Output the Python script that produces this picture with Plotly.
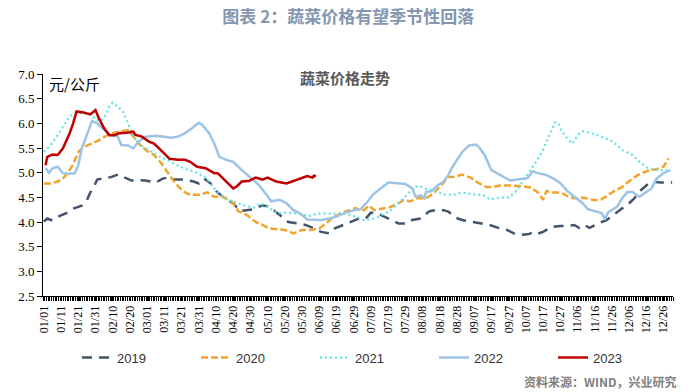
import plotly.graph_objects as go

# ---------------- data (day of year, leap-year calendar) ----------------
tick_days = list(range(1, 362, 10))
tick_labels = ["01/01", "01/11", "01/21", "01/31", "02/10", "02/20", "03/01", "03/11",
               "03/21", "03/31", "04/10", "04/20", "04/30", "05/10", "05/20", "05/30",
               "06/09", "06/19", "06/29", "07/09", "07/19", "07/29", "08/08", "08/18",
               "08/28", "09/07", "09/17", "09/27", "10/07", "10/17", "10/27", "11/06",
               "11/16", "11/26", "12/06", "12/16", "12/26"]

days_2019 = [1, 3, 6, 10, 14, 18, 23, 26, 28, 30, 32, 36, 40, 44, 48, 52, 56, 60, 66, 70, 73, 76,
             82, 88, 91, 94, 98, 101, 106, 111, 115, 119, 123, 128, 132, 137, 143, 149, 153, 158,
             162, 167, 170, 175, 179, 184, 188, 191, 195, 199, 203, 207, 212, 215, 220, 225, 229,
             233, 236, 240, 244, 250, 256, 260, 266, 270, 274, 278, 282, 284, 286, 291, 296, 301,
             305, 309, 312, 315, 318, 323, 328, 332, 337, 341, 344, 348, 351, 354, 359, 366]
vals_2019 = [4.01, 4.07, 4.03, 4.12, 4.18, 4.27, 4.33, 4.44, 4.60, 4.71, 4.86, 4.88, 4.91, 4.96,
             4.90, 4.84, 4.85, 4.84, 4.80, 4.88, 4.90, 4.86, 4.86, 4.82, 4.78, 4.88, 4.78, 4.63,
             4.48, 4.38, 4.22, 4.24, 4.26, 4.34, 4.31, 4.17, 4.00, 3.97, 3.94, 3.87, 3.80, 3.77,
             3.87, 3.94, 4.00, 4.07, 4.07, 4.19, 4.17, 4.11, 4.04, 3.97, 3.97, 4.04, 4.07, 4.22,
             4.24, 4.24, 4.21, 4.09, 4.04, 4.00, 3.97, 3.94, 3.87, 3.84, 3.77, 3.74, 3.75, 3.77,
             3.74, 3.80, 3.90, 3.92, 3.92, 3.94, 3.88, 3.94, 3.88, 3.97, 4.04, 4.14, 4.28, 4.38,
             4.48, 4.65, 4.74, 4.82, 4.80, 4.80]

days_2020 = [1, 5, 9, 12, 15, 18, 21, 24, 28, 33, 39, 45, 50, 52, 55, 58, 61, 65, 69, 73, 77, 82,
             86, 91, 96, 100, 105, 110, 114, 119, 124, 128, 132, 137, 141, 146, 151, 156, 161, 165,
             168, 173, 178, 182, 186, 190, 193, 197, 202, 206, 210, 214, 218, 223, 228, 232, 236,
             240, 244, 249, 253, 258, 262, 266, 272, 280, 284, 288, 291, 293, 296, 301, 305, 309,
             315, 321, 325, 329, 333, 337, 340, 346, 352, 357, 361, 364]
vals_2020 = [4.78, 4.78, 4.82, 4.88, 5.00, 5.17, 5.42, 5.52, 5.58, 5.66, 5.78, 5.84, 5.86, 5.78,
             5.66, 5.52, 5.44, 5.36, 5.20, 5.00, 4.80, 4.62, 4.55, 4.55, 4.60, 4.51, 4.51, 4.42,
             4.22, 4.14, 4.00, 3.94, 3.87, 3.85, 3.84, 3.77, 3.84, 3.84, 3.87, 3.97, 4.07, 4.17,
             4.24, 4.28, 4.22, 4.33, 4.24, 4.26, 4.30, 4.36, 4.44, 4.42, 4.48, 4.48, 4.60, 4.75,
             4.91, 4.92, 4.96, 4.90, 4.80, 4.71, 4.71, 4.74, 4.74, 4.72, 4.70, 4.60, 4.45, 4.63,
             4.60, 4.60, 4.53, 4.48, 4.49, 4.44, 4.46, 4.55, 4.64, 4.71, 4.80, 4.95, 5.04, 5.07,
             5.12, 5.29]

days_2021 = [1, 5, 9, 13, 16, 20, 24, 28, 31, 34, 37, 39, 41, 44, 47, 50, 53, 57, 63, 68, 72, 77,
             83, 89, 95, 98, 101, 105, 111, 117, 123, 127, 131, 137, 143, 149, 155, 160, 170, 176,
             182, 187, 193, 198, 202, 207, 212, 216, 219, 223, 229, 233, 239, 244, 250, 256, 260,
             265, 271, 275, 279, 283, 287, 291, 295, 298, 300, 302, 305, 308, 311, 314, 321, 325,
             330, 334, 337, 343, 347, 352, 357, 363]
vals_2021 = [5.42, 5.56, 5.76, 5.97, 6.15, 6.21, 6.20, 6.20, 6.08, 6.04, 6.17, 6.35, 6.42, 6.34,
             6.24, 5.97, 5.73, 5.56, 5.44, 5.33, 5.27, 5.17, 5.08, 5.01, 4.90, 4.76, 4.64, 4.50,
             4.41, 4.34, 4.29, 4.38, 4.30, 4.18, 4.19, 4.17, 4.12, 4.17, 4.17, 4.17, 4.11, 4.04,
             4.07, 4.15, 4.22, 4.38, 4.55, 4.71, 4.73, 4.67, 4.63, 4.56, 4.55, 4.60, 4.56, 4.55,
             4.46, 4.49, 4.50, 4.61, 4.82, 5.02, 5.22, 5.46, 5.76, 6.02, 6.00, 5.83, 5.70, 5.59,
             5.76, 5.84, 5.78, 5.73, 5.66, 5.56, 5.46, 5.36, 5.22, 5.09, 5.05, 5.05]

days_2022 = [2, 4, 6, 9, 12, 15, 19, 21, 23, 26, 29, 32, 35, 40, 44, 46, 50, 53, 56, 60, 66, 71,
             75, 79, 83, 87, 91, 93, 97, 100, 103, 107, 111, 116, 122, 126, 131, 133, 138, 142,
             146, 150, 154, 162, 167, 171, 175, 181, 185, 189, 192, 198, 201, 208, 211, 215, 217,
             220, 222, 223, 226, 230, 233, 236, 238, 241, 244, 248, 252, 254, 257, 261, 265, 268,
             272, 282, 285, 287, 293, 297, 301, 305, 310, 314, 317, 322, 325, 327, 329, 334, 337,
             340, 343, 347, 350, 354, 357, 361, 365]
vals_2022 = [5.09, 5.00, 5.09, 5.12, 4.99, 4.98, 4.99, 5.15, 5.49, 5.76, 6.05, 6.00, 5.90, 5.76,
             5.73, 5.56, 5.55, 5.49, 5.63, 5.73, 5.75, 5.73, 5.71, 5.73, 5.80, 5.90, 6.01, 5.97,
             5.80, 5.59, 5.32, 5.26, 5.22, 5.05, 4.88, 4.75, 4.52, 4.42, 4.45, 4.38, 4.24, 4.17,
             4.05, 4.04, 4.07, 4.11, 4.17, 4.24, 4.26, 4.41, 4.55, 4.71, 4.80, 4.78, 4.77, 4.68,
             4.51, 4.54, 4.48, 4.61, 4.62, 4.75, 4.81, 4.95, 5.09, 5.26, 5.42, 5.55, 5.57, 5.51,
             5.36, 5.05, 4.97, 4.92, 4.84, 4.89, 5.03, 5.00, 4.95, 4.88, 4.79, 4.63, 4.48, 4.38,
             4.26, 4.21, 4.18, 4.07, 4.20, 4.31, 4.48, 4.61, 4.61, 4.51, 4.58, 4.68, 4.88, 4.99,
             5.05]

days_2023 = [2, 3, 6, 9, 12, 16, 18, 20, 24, 28, 31, 33, 36, 39, 42, 45, 49, 53, 54, 58, 62, 65,
             70, 74, 79, 83, 86, 90, 95, 100, 102, 106, 111, 113, 116, 120, 124, 128, 131, 136,
             142, 146, 150, 154, 157, 158, 159]
vals_2023 = [5.15, 5.32, 5.37, 5.36, 5.49, 5.80, 6.00, 6.24, 6.22, 6.18, 6.27, 6.10, 5.90, 5.76,
             5.76, 5.80, 5.81, 5.83, 5.77, 5.73, 5.63, 5.59, 5.42, 5.28, 5.26, 5.26, 5.22, 5.12,
             5.09, 4.99, 4.99, 4.85, 4.68, 4.72, 4.82, 4.83, 4.90, 4.86, 4.90, 4.82, 4.78, 4.83,
             4.88, 4.93, 4.90, 4.94, 4.92]

series = [
    ("2019", days_2019, vals_2019, "#44546A", "10px,7px", 2.5),
    ("2020", days_2020, vals_2020, "#F5A32A", "7px,3px", 2.5),
    ("2021", days_2021, vals_2021, "#5FE3E3", "2px,3px", 2.2),
    ("2022", days_2022, vals_2022, "#9DC3E6", "solid", 2.5),
    ("2023", days_2023, vals_2023, "#C00000", "solid", 2.5),
]

fig = go.Figure()
for name, xs, ys, color, dash, w in series:
    fig.add_trace(go.Scatter(x=xs, y=ys, name=name, mode="lines",
                             line=dict(color=color, dash=dash, width=w)))

serif = "Liberation Serif, Times New Roman, serif"
cjk = "Noto Sans CJK SC, sans-serif"

fig.update_layout(
    width=691, height=392,
    margin=dict(l=43, r=18, t=74, b=96),
    paper_bgcolor="white", plot_bgcolor="white",
    title=dict(text="<b>图表 2：蔬菜价格有望季节性回落</b>", x=0.504, xanchor="center",
               y=0.957, yanchor="middle", yref="container",
               font=dict(family=cjk, size=17, color="#8496B0")),
    xaxis=dict(range=[0.5, 366.5], tickmode="array", tickvals=tick_days, ticktext=tick_labels,
               tickangle=-90, showgrid=False, zeroline=False, showline=True,
               linecolor="black", linewidth=1, ticks="outside", ticklen=4, tickcolor="black",
               tickfont=dict(family=serif, size=12, color="black"),
               minor=dict(tickmode="linear", tick0=0.5, dtick=1, ticks="outside", ticklen=4,
                          tickcolor="black", tickwidth=1, showgrid=False)),
    yaxis=dict(range=[2.5, 7.0], dtick=0.5, tick0=2.5, tickformat=".1f", showgrid=False,
               zeroline=False, showline=True, linecolor="black", linewidth=1,
               ticks="outside", ticklen=5, tickcolor="black",
               tickfont=dict(family=serif, size=13, color="black")),
    legend=dict(orientation="h", x=0.054, xanchor="left", y=-0.21, yanchor="top",
                entrywidth=74, entrywidthmode="pixels", bgcolor="rgba(0,0,0,0)",
                font=dict(family="Liberation Sans, Arial, sans-serif", size=13, color="#333333")),
    showlegend=True,
    annotations=[
        dict(text="<b>蔬菜价格走势</b>", xref="paper", yref="paper", x=0.479, y=0.982,
             xanchor="center", yanchor="middle", showarrow=False,
             font=dict(family=cjk, size=15, color="#595959")),
        dict(text="元/公斤", xref="paper", yref="paper", x=0.006, y=0.959,
             xanchor="left", yanchor="middle", showarrow=False,
             font=dict(family=cjk, size=15, color="black")),
        dict(text="<b>资料来源：WIND，兴业研究</b>", xref="paper", yref="paper", x=1.0095, y=-0.383,
             xanchor="right", yanchor="middle", showarrow=False,
             font=dict(family=cjk, size=12, color="#808080")),
    ],
)

fig.write_html("out.html", config={"displayModeBar": False},
               post_script="document.body.style.margin='0';document.body.style.padding='0';")
